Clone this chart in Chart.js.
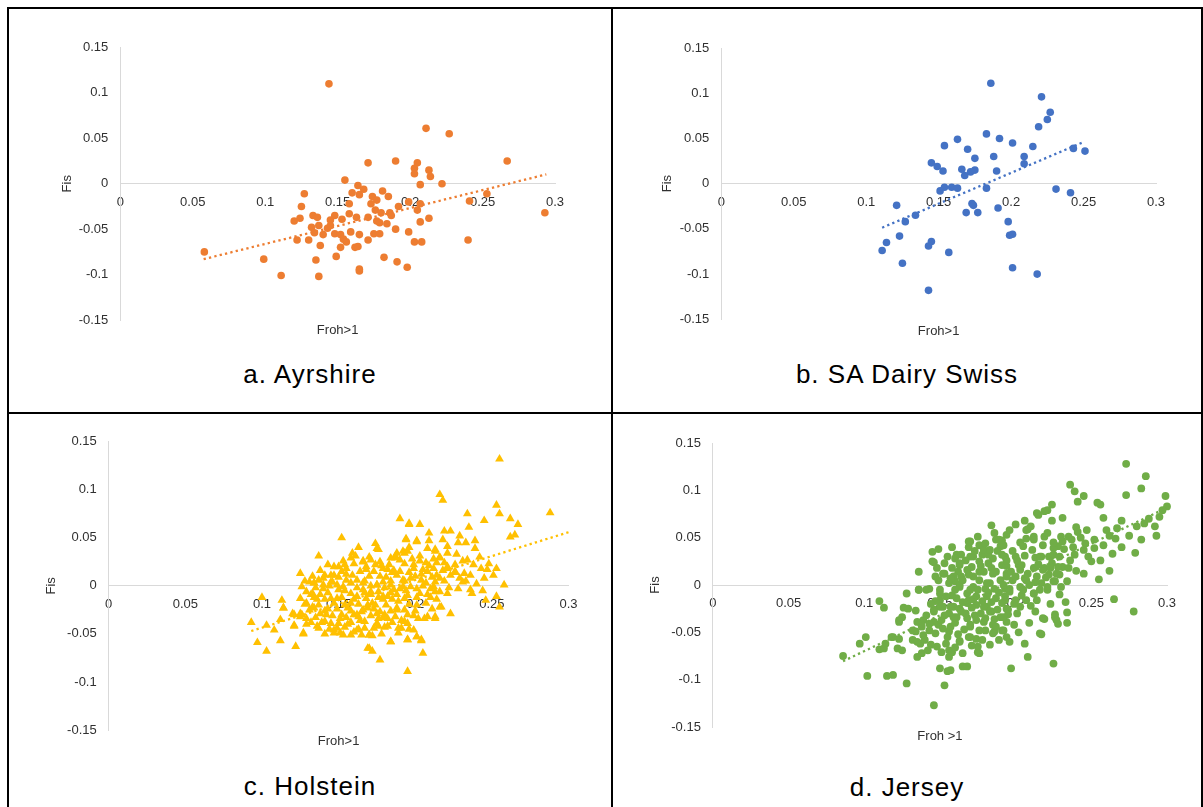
<!DOCTYPE html>
<html>
<head>
<meta charset="utf-8">
<script src="https://cdn.jsdelivr.net/npm/chart.js@4/dist/chart.umd.min.js"></script>
<style>
  body { margin: 0; background: #fff; font-family: "Liberation Sans", Arial, sans-serif; }
  #frame { position: relative; width: 1203px; height: 807px; overflow: hidden; background: #fff; }
  .rule { position: absolute; background: #000; }
  canvas { position: absolute; }
  .cap { position: absolute; font-size: 26px; line-height: 30px; letter-spacing: 1px; text-align: center; color: #000; }
</style>
</head>
<body>
<div id="frame">
  <canvas id="ayr"></canvas>
  <canvas id="sads"></canvas>
  <canvas id="hol"></canvas>
  <canvas id="jer"></canvas>

  <div class="cap" style="left:9px; top:359px; width:602px;">a. Ayrshire</div>
  <div class="cap" style="left:613px; top:359px; width:588px;">b. SA Dairy Swiss</div>
  <div class="cap" style="left:9px; top:771px; width:602px;">c. Holstein</div>
  <div class="cap" style="left:613px; top:772px; width:588px;">d. Jersey</div>

  <!-- table borders -->
  <div class="rule" style="left:7px; top:7px; width:1196px; height:2px;"></div>
  <div class="rule" style="left:7px; top:412px; width:1196px; height:2px;"></div>
  <div class="rule" style="left:7px; top:7px; width:2px; height:800px;"></div>
  <div class="rule" style="left:611px; top:7px; width:2px; height:800px;"></div>
  <div class="rule" style="left:1201px; top:7px; width:2px; height:800px;"></div>
</div>

<script>
// [Froh>1, Fis] per animal
const ayrshire = [
  [0.144,0.110],[0.211,0.061],[0.227,0.055],[0.267,0.025],[0.171,0.023],[0.190,0.025],[0.205,0.023],[0.203,0.017],
  [0.213,0.015],[0.203,0.011],[0.214,0.008],[0.155,0.004],[0.207,-0.001],[0.222,0.000],[0.164,-0.002],[0.168,-0.006],
  [0.160,-0.010],[0.165,-0.012],[0.127,-0.011],[0.181,-0.008],[0.185,-0.014],[0.174,-0.014],[0.177,-0.018],[0.173,-0.022],
  [0.199,-0.020],[0.207,-0.022],[0.192,-0.025],[0.205,-0.029],[0.253,-0.011],[0.241,-0.019],[0.293,-0.032],[0.125,-0.025],
  [0.158,-0.022],[0.186,-0.032],[0.176,-0.029],[0.180,-0.032],[0.158,-0.033],[0.148,-0.035],[0.133,-0.035],[0.136,-0.037],
  [0.163,-0.037],[0.171,-0.037],[0.187,-0.035],[0.124,-0.038],[0.120,-0.041],[0.153,-0.039],[0.145,-0.040],[0.177,-0.041],
  [0.179,-0.043],[0.184,-0.044],[0.207,-0.042],[0.213,-0.038],[0.137,-0.046],[0.145,-0.046],[0.132,-0.048],[0.143,-0.049],
  [0.190,-0.050],[0.199,-0.053],[0.134,-0.054],[0.140,-0.056],[0.148,-0.055],[0.152,-0.056],[0.159,-0.053],[0.165,-0.056],
  [0.175,-0.055],[0.179,-0.055],[0.154,-0.061],[0.122,-0.062],[0.130,-0.062],[0.171,-0.062],[0.156,-0.064],[0.203,-0.064],
  [0.208,-0.064],[0.240,-0.062],[0.138,-0.068],[0.152,-0.070],[0.162,-0.070],[0.164,-0.069],[0.058,-0.075],[0.149,-0.080],
  [0.182,-0.081],[0.099,-0.083],[0.135,-0.084],[0.191,-0.086],[0.198,-0.092],[0.165,-0.094],[0.165,-0.096],[0.111,-0.101],
  [0.137,-0.102]
];

const saDairySwiss = [
  [0.186,0.111],[0.221,0.096],[0.227,0.079],[0.225,0.071],[0.219,0.063],[0.183,0.055],[0.163,0.049],[0.192,0.050],
  [0.201,0.045],[0.154,0.042],[0.215,0.041],[0.170,0.038],[0.243,0.039],[0.251,0.036],[0.175,0.028],[0.188,0.030],
  [0.209,0.030],[0.209,0.022],[0.145,0.023],[0.149,0.019],[0.153,0.014],[0.166,0.016],[0.175,0.015],[0.172,0.013],
  [0.168,0.009],[0.190,0.014],[0.151,-0.008],[0.154,-0.004],[0.159,-0.004],[0.163,-0.005],[0.183,-0.005],[0.231,-0.006],
  [0.241,-0.010],[0.121,-0.024],[0.173,-0.022],[0.174,-0.024],[0.169,-0.032],[0.177,-0.032],[0.191,-0.027],[0.127,-0.042],
  [0.134,-0.035],[0.198,-0.042],[0.199,-0.057],[0.201,-0.056],[0.123,-0.058],[0.114,-0.065],[0.111,-0.074],[0.145,-0.064],
  [0.143,-0.069],[0.157,-0.076],[0.125,-0.088],[0.201,-0.093],[0.218,-0.100],[0.143,-0.118]
];

const holstein = [
  [0.190,0.070],[0.152,0.050],[0.137,0.031],[0.125,0.013],[0.175,0.039],[0.161,0.031],[0.100,-0.012],[0.113,-0.015],
  [0.093,-0.038],[0.103,-0.041],[0.097,-0.059],[0.103,-0.068],[0.112,-0.057],[0.122,-0.063],[0.108,-0.046],[0.112,-0.035],
  [0.121,-0.042],[0.127,-0.050],[0.129,-0.040],[0.120,-0.029],[0.125,-0.029],[0.114,-0.023],[0.136,-0.042],[0.177,-0.077],
  [0.172,-0.068],[0.169,-0.065],[0.184,-0.058],[0.195,-0.089],[0.170,-0.051],[0.162,-0.046],[0.147,-0.049],[0.153,-0.051],
  [0.145,-0.039],[0.134,0.003],[0.145,0.011],[0.154,0.022],[0.166,0.026],[0.174,0.022],[0.179,0.018],[0.187,0.031],
  [0.192,0.036],[0.194,0.048],[0.196,0.065],[0.132,-0.009],[0.140,-0.003],[0.133,-0.022],[0.138,-0.029],[0.162,-0.030],
  [0.156,-0.023],[0.169,-0.020],[0.175,-0.029],[0.182,-0.034],[0.188,-0.025],[0.149,-0.013],[0.158,-0.008],[0.166,-0.004],
  [0.175,0.001],[0.184,0.005],[0.190,-0.003],[0.182,-0.011],
  [0.176,0.038],[0.196,0.064],[0.203,0.064],[0.194,0.049],[0.201,0.046],[0.208,0.039],[0.213,0.036],[0.219,0.057],
  [0.193,0.034],[0.187,0.029],[0.177,0.025],[0.166,0.025],[0.155,0.018],[0.147,0.011],[0.164,0.015],[0.173,0.015],
  [0.182,0.017],[0.190,0.015],[0.199,0.018],[0.208,0.015],[0.214,0.011],[0.221,0.018],[0.216,-0.006],[0.210,-0.003],
  [0.201,-0.003],[0.192,-0.001],[0.184,0.001],[0.175,0.001],[0.166,0.003],[0.158,0.003],[0.149,0.001],[0.140,0.001],
  [0.134,0.003],[0.138,-0.009],[0.145,-0.013],[0.162,-0.011],[0.171,-0.009],[0.179,-0.011],[0.188,-0.009],[0.208,-0.009],
  [0.216,-0.022],[0.208,-0.032],[0.213,-0.034],[0.202,-0.034],[0.195,-0.030],[0.188,-0.023],[0.177,-0.027],[0.169,-0.023],
  [0.160,-0.030],[0.151,-0.034],[0.142,-0.030],[0.134,-0.023],[0.129,-0.034],[0.121,-0.030],[0.114,-0.023],[0.121,-0.041],
  [0.127,-0.049],[0.149,-0.044],[0.158,-0.051],[0.170,-0.051],[0.176,-0.042],[0.184,-0.058],[0.195,-0.056],[0.201,-0.053],
  [0.204,-0.056],[0.189,-0.044],[0.170,-0.065],
  [0.255,0.132],[0.216,0.095],[0.218,0.089],[0.253,0.084],[0.255,0.075],[0.288,0.076],[0.234,0.075],[0.245,0.068],
  [0.262,0.070],[0.267,0.064],[0.265,0.053],[0.262,0.051],[0.235,0.061],[0.223,0.057],[0.209,0.047],[0.201,0.047],
  [0.228,0.045],[0.233,0.045],[0.239,0.047],[0.239,0.039],[0.213,0.038],[0.221,0.034],[0.195,0.036],[0.203,0.031],
  [0.234,0.027],[0.216,0.029],[0.226,0.022],[0.243,0.018],[0.247,0.017],[0.253,0.018],[0.251,0.011],[0.236,0.011],
  [0.232,0.013],[0.258,0.001],[0.228,-0.003],[0.236,-0.004],[0.237,-0.008],[0.212,-0.001],[0.221,-0.008],[0.217,-0.022],
  [0.223,-0.029],[0.246,-0.015],[0.253,-0.011],[0.255,-0.022],[0.213,-0.032],[0.206,-0.034],[0.195,-0.039],[0.195,-0.056],
  [0.201,-0.053],[0.204,-0.057],[0.205,-0.070],[0.191,-0.044],[0.190,0.027],[0.199,0.022],[0.205,0.017],[0.212,0.018],
  [0.221,0.020],[0.197,0.008],[0.204,0.006],[0.216,0.008],[0.229,0.008],
  [0.140,0.008],[0.145,0.004],[0.150,-0.004],[0.155,0.012],[0.158,-0.018],[0.162,0.006],[0.165,-0.027],[0.168,0.020],
  [0.171,-0.006],[0.174,-0.020],[0.177,0.010],[0.180,-0.030],[0.183,0.022],[0.186,-0.004],[0.189,-0.016],[0.192,0.006],
  [0.195,-0.010],[0.198,0.028],[0.201,-0.020],[0.204,0.012],[0.207,0.024],[0.210,-0.012],[0.213,0.004],[0.216,0.030],
  [0.136,-0.014],[0.139,-0.038],[0.143,-0.024],[0.147,-0.046],[0.152,-0.030],[0.156,-0.040],[0.160,-0.048],[0.164,-0.036],
  [0.167,-0.044],[0.172,-0.052],[0.176,-0.034],[0.179,-0.014],[0.182,-0.042],[0.185,0.014],[0.188,0.034],[0.191,-0.036],
  [0.196,0.040],[0.199,-0.046],[0.147,0.020],[0.153,0.026],[0.159,0.034],[0.163,0.040],[0.170,0.030],[0.174,0.044],
  [0.129,-0.018],[0.133,-0.008],[0.126,-0.030],[0.131,0.004],
  [0.158,0.029],[0.171,0.027],[0.184,0.029],[0.203,0.026],[0.212,0.028],
  [0.143,0.022],[0.150,0.020],[0.160,0.023],[0.178,0.021],[0.193,0.023],[0.209,0.021],[0.219,0.024],
  [0.138,0.016],[0.152,0.015],[0.168,0.017],[0.186,0.016],[0.196,0.014],[0.218,0.016],[0.226,0.015],
  [0.133,0.010],[0.141,0.011],[0.150,0.009],[0.159,0.011],[0.170,0.010],[0.181,0.009],[0.188,0.011],[0.200,0.010],[0.211,0.009],[0.223,0.011],
  [0.128,0.005],[0.137,0.006],[0.146,0.004],[0.155,0.006],[0.167,0.005],[0.179,0.004],[0.193,0.005],[0.207,0.003],[0.219,0.005],[0.231,0.004],
  [0.126,-0.001],[0.135,-0.002],[0.144,0.000],[0.153,-0.001],[0.162,-0.002],[0.171,0.000],[0.180,-0.002],[0.197,-0.001],[0.205,0.000],[0.222,-0.002],
  [0.129,-0.006],[0.143,-0.007],[0.154,-0.005],[0.167,-0.007],[0.176,-0.006],[0.184,-0.007],[0.194,-0.005],[0.203,-0.008],[0.213,-0.006],
  [0.125,-0.013],[0.134,-0.012],[0.141,-0.014],[0.152,-0.012],[0.160,-0.014],[0.168,-0.013],[0.176,-0.012],[0.185,-0.014],[0.193,-0.013],[0.201,-0.012],[0.214,-0.014],
  [0.128,-0.019],[0.137,-0.020],[0.147,-0.018],[0.154,-0.020],[0.163,-0.019],[0.172,-0.018],[0.181,-0.020],[0.196,-0.019],[0.207,-0.018],
  [0.131,-0.025],[0.141,-0.026],[0.149,-0.024],[0.158,-0.026],[0.166,-0.025],[0.173,-0.024],[0.184,-0.026],[0.193,-0.025],[0.200,-0.026],[0.211,-0.024],
  [0.125,-0.032],[0.135,-0.033],[0.146,-0.031],[0.155,-0.033],[0.163,-0.032],[0.171,-0.031],[0.179,-0.033],[0.187,-0.032],[0.199,-0.031],
  [0.132,-0.038],[0.141,-0.037],[0.150,-0.039],[0.158,-0.038],[0.167,-0.037],[0.175,-0.039],[0.185,-0.038],[0.193,-0.037],
  [0.137,-0.044],[0.144,-0.045],[0.154,-0.043],[0.163,-0.045],[0.173,-0.044],[0.180,-0.043],[0.196,-0.045],
  [0.141,-0.050],[0.151,-0.049],[0.165,-0.051],[0.178,-0.050],[0.189,-0.049],
  [0.221,0.041],[0.227,0.033],[0.231,0.026],[0.238,0.022],[0.242,0.030],[0.226,0.014],[0.233,0.005],[0.240,0.002],
  [0.245,0.008],[0.218,0.048],[0.209,0.055],[0.229,0.052],[0.214,0.024],[0.244,-0.005],[0.248,0.023]
];

const jersey = [
  [0.086,-0.075],[0.102,-0.096],[0.097,-0.062],[0.101,-0.055],[0.110,-0.068],[0.113,-0.067],[0.118,-0.055],[0.123,-0.057],
  [0.122,-0.067],[0.125,-0.069],[0.115,-0.096],[0.119,-0.095],[0.128,-0.104],[0.110,-0.017],[0.113,-0.024],[0.128,-0.009],
  [0.126,-0.024],[0.129,-0.025],[0.123,-0.039],[0.125,-0.034],[0.134,-0.027],[0.136,-0.005],[0.136,0.014],[0.149,0.038],
  [0.146,0.024],[0.148,0.018],[0.153,0.023],[0.153,0.012],[0.147,0.009],[0.143,-0.004],[0.150,-0.005],[0.150,-0.016],
  [0.146,-0.026],[0.139,-0.037],[0.135,-0.039],[0.134,-0.049],[0.132,-0.058],[0.137,-0.062],[0.135,-0.076],[0.138,-0.072],
  [0.142,-0.069],[0.139,-0.053],[0.143,-0.048],[0.147,-0.051],[0.149,-0.042],[0.146,-0.039],[0.148,-0.065],[0.150,-0.088],
  [0.153,-0.106],[0.146,-0.127],[0.154,-0.062],[0.156,-0.069],[0.156,-0.076],[0.158,-0.071],[0.157,-0.090],[0.155,-0.091],
  [0.163,-0.059],[0.165,-0.086],[0.168,-0.086],[0.169,-0.055],[0.174,-0.057],[0.175,-0.071],[0.156,-0.049],[0.157,-0.044],
  [0.151,-0.037],[0.156,-0.030],[0.152,-0.023],[0.159,-0.023],[0.163,-0.025],[0.161,-0.034],[0.168,-0.035],[0.173,-0.032],
  [0.170,-0.042],[0.179,-0.039],[0.180,-0.048],[0.185,-0.042],[0.186,-0.049],[0.191,-0.048],[0.184,-0.028],[0.190,-0.034],
  [0.194,-0.039],[0.195,-0.026],[0.181,-0.023],[0.174,-0.021],[0.168,-0.019],[0.161,-0.014],[0.168,-0.009],[0.174,-0.012],
  [0.181,-0.012],[0.187,-0.014],[0.193,-0.016],[0.163,-0.002],[0.172,-0.002],[0.180,-0.004],[0.186,-0.004],[0.193,-0.004],
  [0.190,0.005],[0.183,0.002],[0.176,0.005],[0.160,0.004],[0.164,0.009],[0.172,0.009],[0.179,0.014],[0.187,0.014],
  [0.194,0.012],[0.171,0.019],[0.176,0.025],[0.184,0.018],[0.191,0.021],[0.163,0.021],[0.162,0.014],[0.161,0.032],
  [0.172,0.030],[0.178,0.032],[0.185,0.028],[0.193,0.030],[0.169,0.040],[0.176,0.042],[0.179,0.037],[0.182,0.032],
  [0.170,0.046],[0.175,0.051],[0.184,0.063],[0.187,0.048],[0.190,0.041],[0.191,0.032],[0.194,0.053],[0.191,0.047],
  [0.273,0.128],[0.286,0.115],[0.283,0.102],[0.273,0.095],[0.299,0.094],[0.300,0.083],[0.297,0.079],[0.295,0.072],
  [0.236,0.106],[0.239,0.099],[0.245,0.094],[0.241,0.088],[0.254,0.087],[0.256,0.085],[0.258,0.071],[0.224,0.085],
  [0.221,0.079],[0.215,0.074],[0.224,0.068],[0.231,0.071],[0.200,0.064],[0.208,0.059],[0.212,0.051],[0.219,0.051],
  [0.207,0.049],[0.240,0.061],[0.241,0.056],[0.247,0.058],[0.270,0.068],[0.267,0.060],[0.266,0.049],[0.262,0.052],
  [0.280,0.062],[0.285,0.065],[0.293,0.052],[0.279,0.034],[0.264,0.033],[0.252,0.039],[0.246,0.044],[0.245,0.037],
  [0.250,0.025],[0.256,0.026],[0.239,0.032],[0.237,0.048],[0.231,0.046],[0.228,0.041],[0.225,0.039],[0.230,0.051],
  [0.235,0.051],[0.231,0.019],[0.228,0.019],[0.235,0.018],[0.229,0.011],[0.255,0.006],[0.223,0.030],[0.217,0.030],
  [0.213,0.029],[0.202,0.021],[0.194,0.020],[0.200,0.030],[0.203,0.016],[0.212,0.018],[0.218,0.016],[0.224,0.023],
  [0.222,0.011],[0.214,0.009],[0.206,0.007],[0.198,0.005],[0.225,0.004],[0.230,-0.002],[0.217,0.002],[0.209,0.000],
  [0.203,-0.002],[0.221,-0.005],[0.212,-0.009],[0.204,-0.011],[0.196,-0.004],[0.193,-0.012],[0.214,-0.016],[0.203,-0.023],
  [0.194,-0.025],[0.265,-0.015],[0.278,-0.028],[0.234,-0.029],[0.226,-0.031],[0.219,-0.036],[0.227,-0.037],[0.234,-0.040],
  [0.228,-0.041],[0.192,-0.034],[0.192,-0.048],[0.194,-0.055],[0.196,-0.060],[0.202,-0.050],[0.206,-0.062],[0.217,-0.052],
  [0.208,-0.076],[0.225,-0.083],[0.197,-0.088],
  [0.145,0.025],[0.136,-0.005],[0.123,-0.037],[0.132,-0.048],[0.119,-0.055],[0.114,-0.062],[0.135,-0.060],[0.143,-0.041],
  [0.153,-0.032],[0.159,-0.034],[0.164,-0.028],[0.157,-0.023],[0.150,-0.023],[0.146,-0.028],[0.169,-0.016],[0.175,-0.005],
  [0.181,0.002],[0.185,0.012],[0.176,0.014],[0.168,0.016],[0.163,0.023],[0.170,0.030],[0.183,0.037],[0.189,0.048],
  [0.207,0.058],[0.212,0.048],[0.221,0.055],[0.214,0.076],[0.219,0.078],[0.169,0.046],[0.164,0.032],[0.205,0.041],
  [0.216,0.030],[0.222,0.030],[0.225,0.032],[0.194,0.026],[0.201,0.026],[0.219,0.018],[0.194,0.009],[0.207,0.005],
  [0.163,0.000],[0.170,-0.005],[0.165,-0.018],[0.179,-0.023],[0.183,-0.028],[0.174,-0.037],[0.170,-0.044],[0.176,-0.048],
  [0.187,-0.044],[0.185,-0.051],[0.163,-0.060],[0.170,-0.055],[0.175,-0.065],[0.176,-0.072],[0.216,-0.051],[0.218,-0.035],
  [0.226,-0.034],[0.207,-0.016],[0.200,-0.016],[0.196,-0.007],[0.212,-0.009],[0.221,-0.002],[0.226,0.004],[0.141,-0.005],
  [0.150,-0.009],[0.158,-0.011],[0.156,0.002],[0.149,0.005],[0.152,0.012],[0.159,0.009],[0.158,0.018],[0.160,0.028],
  [0.145,0.035],
  [0.147,-0.017],[0.152,-0.046],[0.155,-0.055],[0.160,-0.040],[0.162,-0.052],[0.166,-0.047],[0.167,-0.030],[0.171,-0.024],
  [0.172,-0.015],[0.177,-0.030],[0.178,-0.017],[0.180,-0.035],[0.182,-0.008],[0.184,-0.018],[0.186,-0.036],[0.188,-0.026],
  [0.189,-0.008],[0.191,-0.019],[0.192,0.000],[0.195,-0.031],[0.197,0.014],[0.199,-0.020],[0.200,0.009],[0.201,-0.030],
  [0.204,0.021],[0.205,-0.005],[0.206,0.031],[0.208,0.012],[0.210,-0.022],[0.211,0.037],[0.213,0.003],[0.215,0.022],
  [0.216,-0.005],[0.218,0.042],[0.220,0.008],[0.223,0.018],[0.225,0.045],[0.227,0.012],[0.229,0.030],[0.232,0.038],
  [0.234,0.004],[0.236,0.026],[0.238,0.040],[0.240,0.015],[0.243,0.050],[0.165,0.005],[0.167,0.026],[0.169,0.011],
  [0.173,0.036],[0.177,0.020],[0.180,0.044],[0.182,0.023],[0.186,0.055],[0.188,0.036],[0.192,0.042],[0.196,0.058],
  [0.198,0.036],[0.203,0.045],[0.206,0.068],[0.210,0.062],[0.155,0.030],[0.158,0.040],[0.160,-0.005],[0.157,0.007],
  [0.154,-0.012],[0.144,-0.020],[0.141,-0.032],[0.138,-0.044],[0.140,-0.058],[0.144,-0.063],[0.151,-0.071],[0.160,-0.066],
  [0.165,-0.072],[0.171,-0.064],[0.178,-0.058],[0.183,-0.063],[0.189,-0.058],[0.199,-0.042],[0.209,-0.040],[0.213,-0.028],
  [0.223,-0.020],[0.229,-0.010],[0.233,-0.018],[0.245,0.012],[0.248,0.030],[0.252,0.048],[0.258,0.042],[0.260,0.058],
  [0.262,0.015],[0.270,0.040],[0.275,0.052],[0.283,0.048],[0.288,0.070],[0.292,0.062]
];

// linear trendline end points [Froh>1, Fis]
const trendAyrshire = [[0.0575, -0.083], [0.294, 0.0103]];
const trendSADairySwiss = [[0.111, -0.0487], [0.250, 0.046]];
const trendHolstein = [[0.093, -0.047], [0.300, 0.0558]];
const trendJersey = [[0.086, -0.0805], [0.2995, 0.0812]];

const xTicks = [0, 0.05, 0.1, 0.15, 0.2, 0.25, 0.3];
const yTicks = [-0.15, -0.1, -0.05, 0, 0.05, 0.1, 0.15];

Chart.defaults.font.family = '"Liberation Sans", Arial, sans-serif';

const TEXT = '#303030';
const AXIS = '#d9d9d9';
const FONT_SIZE = 13;

// box = canvas on the page, area = wanted plot area (page px), titleY = centre of x title
const panels = [
  { id: 'ayr', data: ayrshire, trend: trendAyrshire, color: '#ED7D31', style: 'circle', radius: 3.8, xTitle: 'Froh>1',
    box: { left: 10, top: 10, width: 600, height: 340 }, area: { left: 120.3, right: 555, top: 47.5, bottom: 320 }, titleY: 330.7, axisW: 65 },
  { id: 'sads', data: saDairySwiss, trend: trendSADairySwiss, color: '#4472C4', style: 'circle', radius: 3.8, xTitle: 'Froh>1',
    box: { left: 614, top: 10, width: 586, height: 340 }, area: { left: 721.3, right: 1156, top: 48, bottom: 319.3 }, titleY: 331.7, axisW: 66 },
  { id: 'hol', data: holstein, trend: trendHolstein, color: '#FFC000', style: 'triangle', radius: 5.1, xTitle: 'Froh>1',
    box: { left: 10, top: 415, width: 600, height: 345 }, area: { left: 108.7, right: 568.5, top: 441.7, bottom: 730 }, titleY: 741, axisW: 69 },
  { id: 'jer', data: jersey, trend: trendJersey, color: '#70AD47', style: 'circle', radius: 3.9, xTitle: 'Froh >1',
    box: { left: 614, top: 415, width: 586, height: 345 }, area: { left: 712.9, right: 1167, top: 443, bottom: 727 }, titleY: 736, axisW: 69 }
];

function fixedTicks(list) {
  return (scale) => { scale.ticks = list.map((v) => ({ value: v })); };
}

function drawPanel(p) {
  const cv = document.getElementById(p.id);
  const b = p.box, a = p.area;
  cv.width = b.width;
  cv.height = b.height;
  cv.style.left = b.left + 'px';
  cv.style.top = b.top + 'px';

  const lh = FONT_SIZE * 1.2;
  const titlePad = p.titleY - a.bottom - lh / 2;
  const padding = {
    left: a.left - b.left - p.axisW,
    right: b.left + b.width - a.right,
    top: a.top - b.top,
    bottom: b.top + b.height - a.bottom - titlePad - lh
  };

  const tickFont = { size: FONT_SIZE };

  new Chart(cv, {
    type: 'scatter',
    data: {
      datasets: [
        {
          // dotted trendline, drawn above the markers
          data: p.trend.map(([x, y]) => ({ x, y })),
          showLine: true,
          borderColor: p.color,
          borderWidth: 2.3,
          borderDash: [2.3, 3.2],
          pointRadius: 0,
          order: 0,
          clip: false
        },
        {
          data: p.data.map(([x, y]) => ({ x, y })),
          pointStyle: p.style,
          pointRadius: p.radius,
          pointBackgroundColor: p.color,
          pointBorderColor: p.color,
          pointBorderWidth: 0,
          showLine: false,
          order: 1,
          clip: false
        }
      ]
    },
    options: {
      responsive: false,
      animation: false,
      events: [],
      layout: { padding },
      plugins: {
        legend: { display: false },
        tooltip: { enabled: false },
        title: {
          display: true,
          text: p.xTitle,
          position: 'bottom',
          fullSize: false,
          color: TEXT,
          font: { size: FONT_SIZE, weight: 'normal' },
          padding: { top: titlePad, bottom: 0 }
        }
      },
      scales: {
        x: {
          type: 'linear',
          position: { y: 0 },
          min: 0,
          max: 0.3,
          afterBuildTicks: fixedTicks(xTicks),
          grid: { display: false },
          border: { display: true, color: AXIS, width: 1 },
          ticks: { color: TEXT, font: tickFont, maxRotation: 0, autoSkip: false, padding: 3, callback: (v) => String(v) }
        },
        y: {
          type: 'linear',
          position: 'left',
          min: -0.15,
          max: 0.15,
          afterBuildTicks: fixedTicks(yTicks),
          afterFit: (scale) => { scale.width = p.axisW; },
          grid: { display: false },
          border: { display: true, color: AXIS, width: 1 },
          ticks: { color: TEXT, font: tickFont, autoSkip: false, padding: 4, callback: (v) => String(v) },
          title: { display: true, text: 'Fis', color: TEXT, font: { size: FONT_SIZE } }
        }
      }
    }
  });
}

panels.forEach(drawPanel);
</script>
</body>
</html>
